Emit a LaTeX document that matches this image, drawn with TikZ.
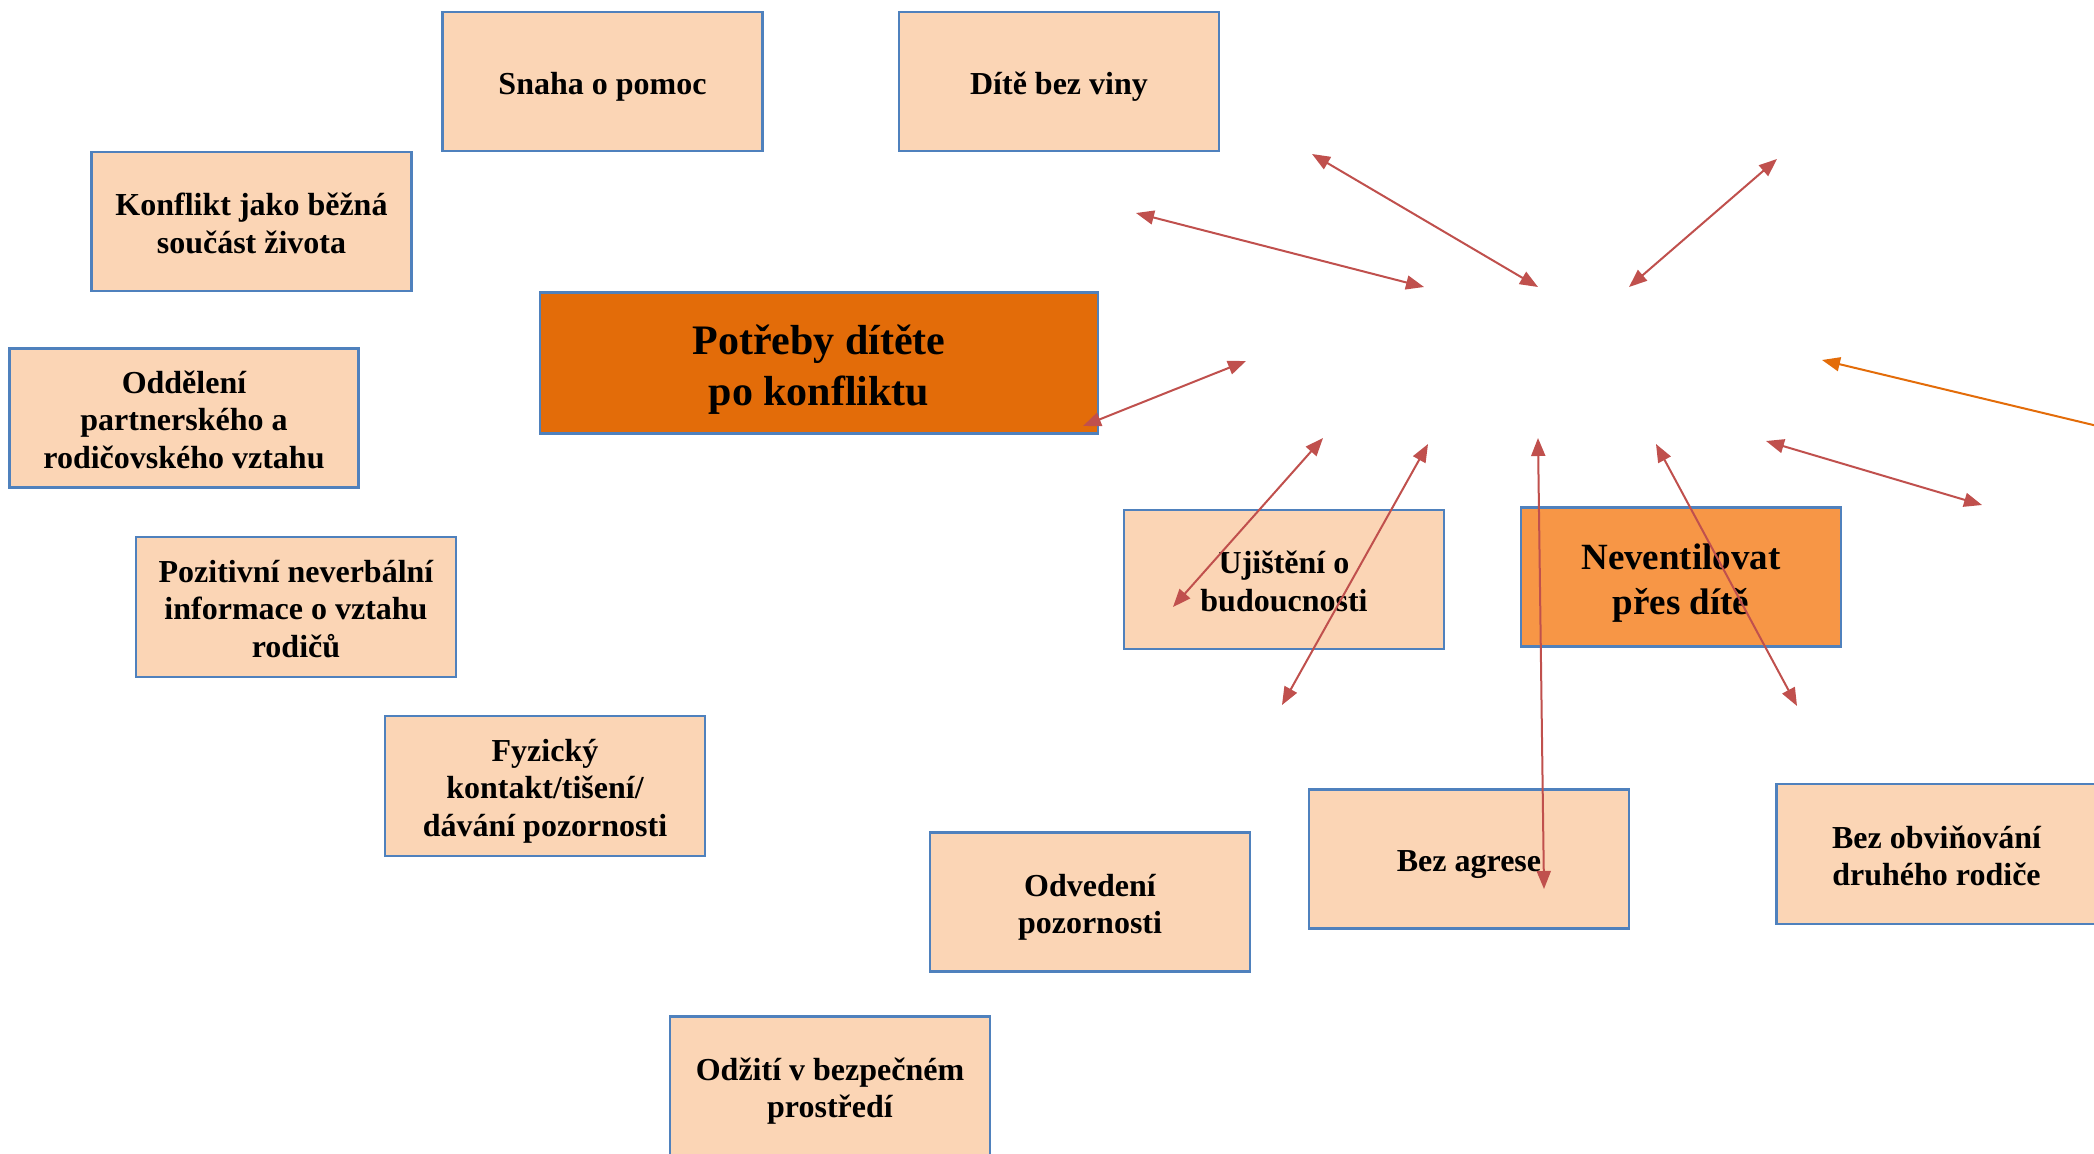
\documentclass[tikz,border=0pt]{standalone}
\usepackage{fontspec}
\setmainfont{Liberation Serif}
\usetikzlibrary{arrows.meta}
\definecolor{peach}{HTML}{FBD5B5}
\definecolor{boxline}{HTML}{4F81BD}
\definecolor{darkorange}{HTML}{E36C09}
\definecolor{midorange}{HTML}{F79646}
\definecolor{arrowred}{HTML}{C0504D}
% fixed line extents, so every box places its text the same way
\newcommand\topst{\rule{0pt}{1.06em}}
\newcommand\botst{\rule[-0.25em]{0pt}{0.25em}}

\begin{document}
\begin{tikzpicture}[x=1pt,y=-1pt,
  box/.style={draw=boxline, line width=2.5pt, fill=peach,
    minimum width=320pt, minimum height=139pt, align=center, inner sep=0pt,
    font=\bfseries\fontsize{32}{37.4}\selectfont},
  mainbox/.style={box, fill=darkorange, minimum width=558pt, minimum height=141pt,
    font=\bfseries\fontsize{42}{50.7}\selectfont},
  keybox/.style={box, fill=midorange, font=\bfseries\fontsize{37}{45}\selectfont},
  link/.style={draw=arrowred, line width=2pt, {Triangle[length=18pt,width=14pt]}-{Triangle[length=18pt,width=14pt]}},
  hint/.style={draw=darkorange, line width=2pt, -{Triangle[length=18pt,width=14pt]}},
]
\useasboundingbox (0,0) rectangle (2094,1154);
\clip (0,0) rectangle (2094,1154);
\fill[white] (0,0) rectangle (2094,1154);

% boxes
\node[box] (snaha)   at (602.5,81.5) {\topst Snaha o pomoc\botst};
\node[box] (bezviny) at (1059,81.5)  {\topst Dítě bez viny\botst};
\node[box] (konflikt) at (251.5,221.5) {\topst Konflikt jako běžná\\součást života\botst};
\node[mainbox] (potreby) at (819,363) {\topst Potřeby dítěte\\po konfliktu\botst};
\node[box, minimum width=349pt] (oddeleni) at (184,418) {\topst Oddělení\\partnerského a\\rodičovského vztahu\botst};
\node[box, minimum height=140pt] (pozitivni) at (296,607) {\topst Pozitivní neverbální\\informace o vztahu\\rodičů\botst};
\node[box, minimum height=140pt] (fyzicky) at (545,786) {\topst Fyzický\\kontakt/tišení/\\dávání pozornosti\botst};
\node[box] (ujisteni) at (1284,579.5) {\topst Ujištění o\\budoucnosti\botst};
\node[keybox] (neventil) at (1681,577) {\topst Neventilovat\\přes dítě\botst};
\node[box] (odvedeni) at (1090,902) {\topst Odvedení\\pozornosti\botst};
\node[box] (agrese) at (1469,859) {\topst Bez agrese\botst};
\node[box, minimum height=140pt] (obvinovani) at (1936.5,854) {\topst Bez obviňování\\druhého rodiče\botst};
\node[box] (odziti) at (830,1086) {\topst Odžití v bezpečném\\prostředí\botst};

% free arrow ends
\coordinate (a1) at (1136,213);  \coordinate (b1) at (1424,287);
\coordinate (a2) at (1312,154);  \coordinate (b2) at (1538,287);
\coordinate (a3) at (1777,159);  \coordinate (b3) at (1629,287);
\coordinate (a4) at (1246,361);  \coordinate (b4) at (1083,426);
\coordinate (a5) at (1323,438);  \coordinate (b5) at (1173,607);
\coordinate (a6) at (1428,444);  \coordinate (b6) at (1282,705);
\coordinate (a7) at (1538,438);  \coordinate (b7) at (1544,889);
\coordinate (a8) at (1656,444);  \coordinate (b8) at (1797,706);
\coordinate (a9) at (1766,441);  \coordinate (b9) at (1982,505);
\coordinate (o1) at (2110,429);  \coordinate (o2) at (1822,360);

% connectors
\draw[link] (a1) -- (b1);
\draw[link] (a2) -- (b2);
\draw[link] (a3) -- (b3);
\draw[link] (a4) -- (b4);
\draw[link] (a5) -- (b5);
\draw[link] (a6) -- (b6);
\draw[link] (a7) -- (b7);
\draw[link] (a8) -- (b8);
\draw[link] (a9) -- (b9);
\draw[hint] (o1) -- (o2);
\end{tikzpicture}
\end{document}
